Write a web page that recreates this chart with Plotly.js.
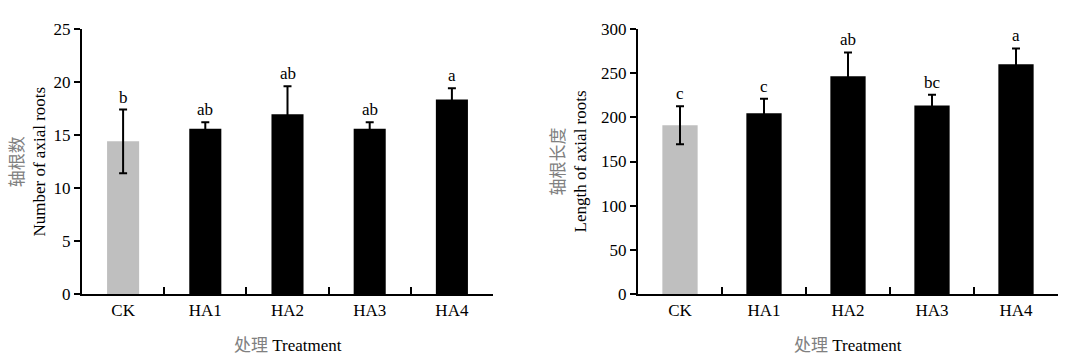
<!DOCTYPE html>
<html>
<head>
<meta charset="utf-8">
<script src="https://cdn.plot.ly/plotly-3.0.1.min.js"></script>
<style>html,body{margin:0;padding:0;background:#fff}#chart{width:1074px;height:364px}</style>
</head>
<body>
<div id="chart"></div>
<script>
const categories = ["CK", "HA1", "HA2", "HA3", "HA4"];
const barColors = ["#bfbfbf", "#000000", "#000000", "#000000", "#000000"];

const rootNumber = [14.4, 15.6, 16.95, 15.6, 18.35];
const rootNumberErr = [3.0, 0.6, 2.65, 0.6, 1.05];
const rootNumberLetters = ["b", "ab", "ab", "ab", "a"];

const rootLength = [191, 204.5, 246.5, 213.5, 260];
const rootLengthErr = [21.5, 16.5, 27, 12, 18];
const rootLengthLetters = ["c", "c", "ab", "bc", "a"];

const FONT = "Liberation Serif, Times New Roman, Noto Sans CJK SC, serif";
const GREY = "#808080";
const W = 1074, H = 364;

function xAxis(domain, anchor) {
  return {
    domain: domain, anchor: anchor, type: "category", range: [-0.5, 4.5],
    showline: true, linecolor: "#000", linewidth: 2,
    ticks: "inside", tickson: "boundaries", ticklen: 7, tickwidth: 2, tickcolor: "#000",
    showgrid: false, zeroline: false, fixedrange: true,
    tickfont: {family: FONT, size: 17, color: "#000"}
  };
}
function yAxis(domain, anchor, range, dtick) {
  return {
    domain: domain, anchor: anchor, range: range, dtick: dtick, tick0: 0,
    showline: true, linecolor: "#000", linewidth: 2,
    ticks: "outside", ticklen: 6, tickwidth: 2, tickcolor: "#000",
    showgrid: false, zeroline: false, fixedrange: true,
    tickfont: {family: FONT, size: 17, color: "#000"}
  };
}

const ydom = [(H - 294) / H, (H - 29) / H];
const x1dom = [82 / W, 493 / W];
const x2dom = [638 / W, 1058 / W];

const traces = [
  {
    type: "bar", x: categories, y: rootNumber, xaxis: "x", yaxis: "y",
    width: 0.39, marker: {color: barColors, line: {width: 0}},
    error_y: {type: "data", array: rootNumberErr, visible: true, color: "#000", thickness: 2, width: 4},
    hoverinfo: "x+y"
  },
  {
    type: "bar", x: categories, y: rootLength, xaxis: "x2", yaxis: "y2",
    width: 0.42, marker: {color: barColors, line: {width: 0}},
    error_y: {type: "data", array: rootLengthErr, visible: true, color: "#000", thickness: 2, width: 4},
    hoverinfo: "x+y"
  }
];

const annotations = [];
categories.forEach((c, i) => {
  annotations.push({
    xref: "x", yref: "y", x: c, y: rootNumber[i] + rootNumberErr[i],
    text: rootNumberLetters[i], showarrow: false, yanchor: "bottom", yshift: 1,
    font: {family: FONT, size: 17, color: "#000"}
  });
  annotations.push({
    xref: "x2", yref: "y2", x: c, y: rootLength[i] + rootLengthErr[i],
    text: rootLengthLetters[i], showarrow: false, yanchor: "bottom", yshift: 1,
    font: {family: FONT, size: 17, color: "#000"}
  });
});

// axis titles
const ymid = 1 - 161.5 / H;
annotations.push({
  xref: "paper", yref: "paper", x: 28 / W, y: ymid, xanchor: "center", yanchor: "middle",
  textangle: -90, showarrow: false,
  text: '<span style="color:' + GREY + '">轴根数</span><br>Number of axial roots',
  font: {family: FONT, size: 17, color: "#000"}
});
annotations.push({
  xref: "paper", yref: "paper", x: 569 / W, y: ymid, xanchor: "center", yanchor: "middle",
  textangle: -90, showarrow: false,
  text: '<span style="color:' + GREY + '">轴根长度</span><br>Length of axial roots',
  font: {family: FONT, size: 17, color: "#000"}
});
annotations.push({
  xref: "paper", yref: "paper", x: 287.5 / W, y: 1 - 345 / H, xanchor: "center", yanchor: "middle",
  showarrow: false,
  text: '<span style="color:' + GREY + '">处理</span> Treatment',
  font: {family: FONT, size: 17, color: "#000"}
});
annotations.push({
  xref: "paper", yref: "paper", x: 848 / W, y: 1 - 345 / H, xanchor: "center", yanchor: "middle",
  showarrow: false,
  text: '<span style="color:' + GREY + '">处理</span> Treatment',
  font: {family: FONT, size: 17, color: "#000"}
});

const layout = {
  width: W, height: H,
  margin: {l: 0, r: 0, t: 0, b: 0, pad: 0},
  paper_bgcolor: "#fff", plot_bgcolor: "#fff",
  showlegend: false,
  font: {family: FONT, size: 17, color: "#000"},
  xaxis: xAxis(x1dom, "y"),
  yaxis: yAxis(ydom, "x", [0, 25], 5),
  xaxis2: xAxis(x2dom, "y2"),
  yaxis2: yAxis(ydom, "x2", [0, 300], 50),
  annotations: annotations
};

Plotly.newPlot("chart", traces, layout, {displayModeBar: false, staticPlot: true});
</script>
</body>
</html>
